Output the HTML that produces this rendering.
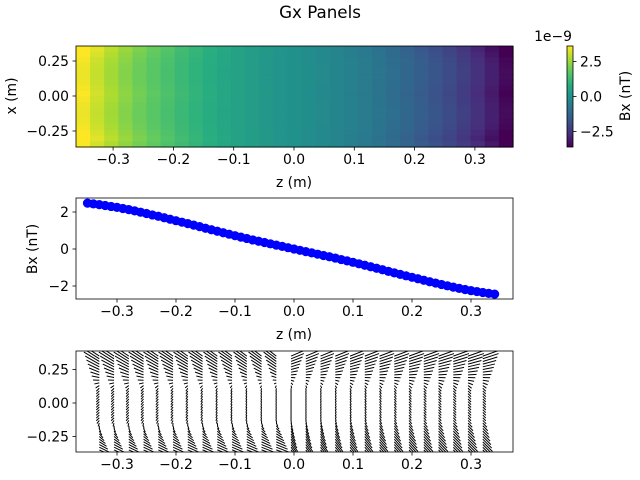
<!DOCTYPE html>
<html><head><meta charset="utf-8"><style>
body{margin:0;background:#fff}
svg{display:block;font-family:"DejaVu Sans","Liberation Sans",sans-serif}
</style></head><body>
<svg id="c" width="640" height="480" viewBox="0 0 640 480">
<defs><linearGradient id="vir" x1="0" y1="1" x2="0" y2="0">
<stop offset="0" stop-color="#440154"/><stop offset="0.125" stop-color="#472d7b"/><stop offset="0.25" stop-color="#3b528b"/><stop offset="0.375" stop-color="#2c728e"/><stop offset="0.5" stop-color="#21918c"/><stop offset="0.625" stop-color="#28ae80"/><stop offset="0.75" stop-color="#5ec962"/><stop offset="0.875" stop-color="#addc30"/><stop offset="1" stop-color="#fde725"/></linearGradient></defs>
<text x="320" y="18" text-anchor="middle" font-size="16.7">Gx Panels</text>
</svg>
<script>
const svg=document.getElementById('c');
const NS='http://www.w3.org/2000/svg';
function mk(t,a,p){const e=document.createElementNS(NS,t);for(const k in a)e.setAttribute(k,a[k]);(p||svg).appendChild(e);return e;}
function txt(x,y,s,anchor,size,p){const e=mk('text',{x:x,y:y,'text-anchor':anchor||'middle','font-size':size||13.9},p);e.textContent=s;return e;}

// ---- data ----
const heatCols=[3.5,3.05,2.65,2.3,2.0,1.75,1.5,1.25,1.05,0.85,0.65,0.5,0.35,0.2,0.1,0.0,-0.1,-0.22,-0.35,-0.5,-0.65,-0.85,-1.05,-1.25,-1.5,-1.75,-2.0,-2.3,-2.65,-3.05,-3.5];
const heatRowBoost=[1.08,1.04,1.0,0.98,0.97,0.97,0.98,1.0,1.02,1.0,0.98,0.97,0.97,0.98,1.0,1.04,1.08,1.02];
const cbTicks=[2.5,0.0,-2.5];
const xTicks=[-0.3,-0.2,-0.1,0.0,0.1,0.2,0.3];
const yTicks1=[0.25,0.00,-0.25];
const lineZ=[-0.35,-0.34,-0.33,-0.32,-0.31,-0.30,-0.29,-0.28,-0.27,-0.26,-0.25,-0.24,-0.23,-0.22,-0.21,-0.20,-0.19,-0.18,-0.17,-0.16,-0.15,-0.14,-0.13,-0.12,-0.11,-0.10,-0.09,-0.08,-0.07,-0.06,-0.05,-0.04,-0.03,-0.02,-0.01,0.00,0.01,0.02,0.03,0.04,0.05,0.06,0.07,0.08,0.09,0.10,0.11,0.12,0.13,0.14,0.15,0.16,0.17,0.18,0.19,0.20,0.21,0.22,0.23,0.24,0.25,0.26,0.27,0.28,0.29,0.30,0.31,0.32,0.33,0.34];
const lineBx=[2.48,2.44,2.40,2.35,2.30,2.25,2.19,2.13,2.06,1.99,1.92,1.84,1.77,1.69,1.61,1.53,1.45,1.37,1.29,1.21,1.12,1.04,0.96,0.88,0.80,0.72,0.64,0.57,0.49,0.42,0.35,0.28,0.21,0.14,0.07,0.00,-0.07,-0.14,-0.21,-0.28,-0.35,-0.42,-0.49,-0.57,-0.64,-0.72,-0.80,-0.88,-0.96,-1.04,-1.12,-1.21,-1.29,-1.37,-1.45,-1.53,-1.61,-1.69,-1.77,-1.84,-1.92,-1.99,-2.06,-2.13,-2.19,-2.25,-2.30,-2.35,-2.40,-2.44,-2.48];
const yTicks2=[2,0,-2];
const qZ=[-0.33,-0.305,-0.28,-0.255,-0.23,-0.205,-0.18,-0.155,-0.13,-0.105,-0.08,-0.055,-0.03,-0.005,0.02,0.045,0.07,0.095,0.12,0.145,0.17,0.195,0.22,0.245,0.27,0.295,0.32];
const qY=[0.35,0.33,0.31,0.29,0.27,0.25,0.23,0.21,0.19,0.17,0.15,0.13,0.11,0.09,0.07,0.05,0.03,0.01,-0.01,-0.03,-0.05,-0.07,-0.09,-0.11,-0.13,-0.15,-0.17,-0.19,-0.21,-0.23,-0.25,-0.27,-0.29,-0.31,-0.33,-0.35];
const qSkewU=[-1.0,-0.95,-0.9,-0.85,-0.8,-0.72,-0.64,-0.56,-0.48,-0.4,-0.3,-0.2,-0.1,0,0.1,0.2,0.3,0.4,0.5,0.6,0.68,0.76,0.84,0.9,0.95,1.0,1.0];

const V=[[68,1,84],[71,45,123],[59,82,139],[44,114,142],[33,145,140],[40,174,128],[94,201,98],[173,220,48],[253,231,37]];
function vir(t){t=Math.max(0,Math.min(1,t))*8;const i=Math.min(7,Math.floor(t)),f=t-i;const a=V[i],b=V[i+1];return 'rgb('+a.map((v,k)=>Math.round(v+(b[k]-v)*f)).join(',')+')';}

function axes(name){return mk('g',{});}
function xAxisTicks(g,sx,yb,ticks){ticks.forEach(t=>{const x=sx(t);mk('line',{x1:x,x2:x,y1:yb,y2:yb+3.5,stroke:'#000','stroke-width':0.8},g);const e=txt(x,yb+17,(t<0?'\u2212':'')+Math.abs(t).toFixed(1),'middle',13.9,g);});}
function yAxisTicks(g,sy,xl,ticks,fmt){ticks.forEach(t=>{const y=sy(t);mk('line',{x1:xl,x2:xl-3.5,y1:y,y2:y,stroke:'#000','stroke-width':0.8},g);const e=txt(xl-7,y+5,(t<0?'\u2212':'')+fmt(Math.abs(t)),'end',13.9,g);});}

// ---- panel 1 heatmap ----
(function(){
const L=76,R=513,T=46,B=147;
const sx=z=>294+z*603, sy=v=>96-v*140;
const g=axes('heatmap-panel');
const cw=(R-L)/heatCols.length, rh=(B-T)/heatRowBoost.length;
heatCols.forEach((v,i)=>heatRowBoost.forEach((b,j)=>{
 const r=mk('rect',{x:L+i*cw,y:T+j*rh,width:cw+0.6,height:rh+0.6,fill:vir((v*b+3.6)/7.2)},g);
 
 
}));
mk('rect',{x:L,y:T,width:R-L,height:B-T,fill:'none',stroke:'#000','stroke-width':0.8},g);
xAxisTicks(g,sx,B,xTicks);yAxisTicks(g,sy,L,yTicks1,v=>v.toFixed(2));
const xl=txt(294,187,'z (m)','middle',13.9,g);
const yl=txt(0,0,'x (m)','middle',13.9,g);yl.setAttribute('transform','translate(16,96) rotate(-90)');
const cg=mk('g',{});
mk('rect',{x:567,y:46,width:6,height:101,fill:'url(#vir)',stroke:'#000','stroke-width':0.8},cg);
const cy=v=>96.5-v*14.03;
cbTicks.forEach(t=>{const y=cy(t);mk('line',{x1:573,x2:576.5,y1:y,y2:y,stroke:'#000','stroke-width':0.8},cg);txt(580,y+5,(t<0?'\u2212':'')+Math.abs(t).toFixed(1),'start',13.9,cg);});
txt(553,41,'1e\u22129','middle',13.9,cg);
const cl=txt(0,0,'Bx (nT)','middle',13.9,cg);cl.setAttribute('transform','translate(630,96) rotate(-90)');
})();

// ---- panel 2 line ----
(function(){
const L=76,R=513,T=198,B=299;
const sx=z=>294+z*590, sy=v=>249-v*18.5;
const g=axes('line-panel');
let d='';lineZ.forEach((z,i)=>{d+=(i?'L':'M')+sx(z)+','+sy(lineBx[i]);});
mk('path',{d:d,fill:'none',stroke:'#0000ff','stroke-width':1.5,},g);
lineZ.forEach((z,i)=>{const c=mk('circle',{cx:sx(z),cy:sy(lineBx[i]),r:4.6,fill:'#0000ff'},g);
 
 });
mk('rect',{x:L,y:T,width:R-L,height:B-T,fill:'none',stroke:'#000','stroke-width':0.8},g);
xAxisTicks(g,sx,B,xTicks);yAxisTicks(g,sy,L,yTicks2,v=>String(v));
const xl=txt(294,339,'z (m)','middle',13.9,g);
const yl=txt(0,0,'Bx (nT)','middle',13.9,g);yl.setAttribute('transform','translate(37,249) rotate(-90)');
})();

// ---- panel 3 quiver ----
(function(){
const L=76,R=513,T=351,B=452;
const sx=z=>294+z*590, sy=v=>403-v*134;
const g=axes('quiver-panel');
const cp=mk('clipPath',{id:'qc'},g);mk('rect',{x:L,y:T,width:R-L,height:B-T},cp);
const qg=mk('g',{'clip-path':'url(#qc)'},g);
qZ.forEach((z,i)=>qY.forEach(y=>{
 const s=qSkewU[i];
 const edge=Math.max(0,(Math.abs(y)-0.12)/0.23);
 let dx,dy;
 if(y>0){dx=(s<0?-15:14)*edge; dy=-edge*(s<0?12:6)+3*(1-edge);}
 else{dx=(s<0?14:9)*edge; dy=edge*(s<0?5:12)+3*(1-edge);}
 dx+=s*3;
 const x0=sx(z),y0=sy(y);
 const a=mk('line',{x1:x0,y1:y0,x2:x0+dx,y2:y0+dy,stroke:'#000','stroke-width':1},qg);
 
 
}));
mk('rect',{x:L,y:T,width:R-L,height:B-T,fill:'none',stroke:'#000','stroke-width':0.8},g);
xAxisTicks(g,sx,B,xTicks);yAxisTicks(g,sy,L,yTicks1,v=>v.toFixed(2));
})();
</script>
</body></html>
